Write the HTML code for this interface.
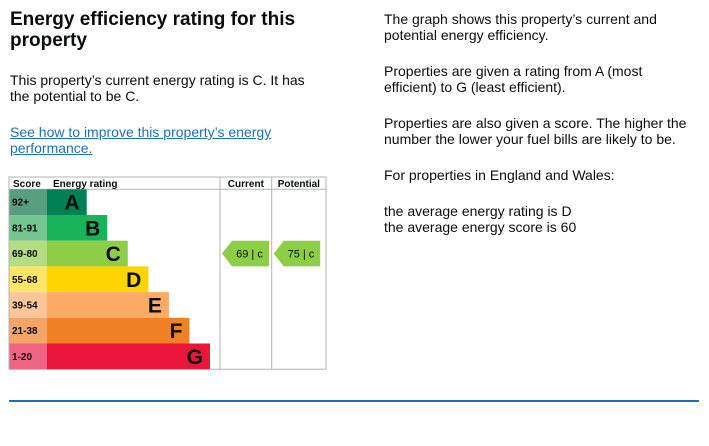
<!DOCTYPE html>
<html><head><meta charset="utf-8"><style>
body{margin:0;width:709px;height:446px;background:#fff;position:relative;overflow:hidden;font-family:"Liberation Sans",Arial,sans-serif;color:#0b0c0c}
.t{position:absolute;margin:0}
h2.t{left:10px;top:9px;font-size:19px;line-height:21px;font-weight:bold;width:340px}
p.t{font-size:14px;line-height:16px}
a{color:#1d70b8;text-decoration:underline}
</style></head><body>
<h2 class="t">Energy efficiency rating for this property</h2>
<p class="t" style="left:10px;top:72px;width:310px">This property’s current energy rating is C. It has the potential to be C.</p>
<p class="t" style="left:10px;top:124px;width:318px"><a href="#">See how to improve this property’s energy performance.</a></p>
<p class="t" style="left:384px;top:11px;width:312px">The graph shows this property’s current and potential energy efficiency.</p>
<p class="t" style="left:384px;top:63px;width:300px">Properties are given a rating from A (most efficient) to G (least efficient).</p>
<p class="t" style="left:384px;top:115px;width:312px">Properties are also given a score. The higher the number the lower your fuel bills are likely to be.</p>
<p class="t" style="left:384px;top:167px;width:312px">For properties in England and Wales:</p>
<p class="t" style="left:384px;top:203px;width:312px">the average energy rating is D<br>the average energy score is 60</p>
<div style="position:absolute;left:9px;top:400px;width:690px;height:2px;background:#1d70b8"></div>
<svg id="c" width="709" height="446" style="position:absolute;left:0;top:0"></svg>
<script>
const bands=["A","B","C","D","E","F","G"];
const ranges=["92+","81-91","69-80","55-68","39-54","21-38","1-20"];
const bandColors=["#008054","#19b459","#8dce46","#ffd500","#fcaa65","#ef8023","#e9153b"];
const scoreColors=["#5a9e80","#74c58f","#b3dc84","#ffe566","#fdc69a","#f3a566","#ef6482"];
const currentScore=69, currentBand="C";
const potentialScore=75, potentialBand="C";
const NS="http://www.w3.org/2000/svg";
const svg=document.getElementById('c');
function mk(t,a,txt){const e=document.createElementNS(NS,t);for(const k in a)e.setAttribute(k,a[k]);if(txt!==undefined)e.textContent=txt;svg.appendChild(e);return e;}
const X0=9,X1=326,TOP=177,HEAD=12.3,RH=25.7,SC=46.7,CUR=220,POT=271.7;
const y=i=>TOP+HEAD+i*RH;
const barEnd=i=>86.7+i*20.55;
const bandIndex=b=>bands.indexOf(b);
const BOT=y(bands.length);
let e;
e=mk('rect',{x:X0,y:TOP,width:X1-X0,height:BOT-TOP,fill:'#fff',stroke:'#b1b4b6','stroke-width':1});

e=mk('line',{x1:X0,x2:X1,y1:TOP+HEAD,y2:TOP+HEAD,stroke:'#b1b4b6'});

[CUR,POT].forEach(x=>{e=mk('line',{x1:x,x2:x,y1:TOP,y2:BOT,stroke:'#b1b4b6'});
});
const hs={'font-size':10,'font-weight':'bold','font-family':'Liberation Sans, sans-serif',fill:'#0b0c0c'};
e=mk('text',Object.assign({x:13,y:TOP+10},hs),'Score');
e=mk('text',Object.assign({x:53,y:TOP+10},hs),'Energy rating');
e=mk('text',Object.assign({x:(CUR+POT)/2,y:TOP+10,'text-anchor':'middle'},hs),'Current');
e=mk('text',Object.assign({x:(POT+X1)/2,y:TOP+10,'text-anchor':'middle'},hs),'Potential');
bands.forEach((b,i)=>{
 e=mk('rect',{x:X0+0.5,y:y(i),width:SC-X0-0.5,height:RH,fill:scoreColors[i]});
 
 e=mk('text',{x:12,y:y(i)+RH/2+3.5,'font-size':10,'font-weight':'bold','font-family':'Liberation Sans, sans-serif',fill:'#0b0c0c'},ranges[i]);
 
 e=mk('rect',{x:SC,y:y(i),width:barEnd(i)-SC,height:RH,fill:bandColors[i]});
 
 e=mk('text',{x:barEnd(i)-7,y:y(i)+RH/2+7.5,'text-anchor':'end','font-size':21,'font-weight':'bold','font-family':'Liberation Sans, sans-serif',fill:'#0b0c0c'},b);
 
});
function arrow(x0,x1,score,band,name){
 const i=bandIndex(band),t=y(i),m=t+RH/2,bt=t+RH;
 e=mk('polygon',{points:`${x0},${m} ${x0+10},${t} ${x1},${t} ${x1},${bt} ${x0+10},${bt}`,fill:bandColors[i]});
 
 e=mk('text',{x:(x0+x1)/2+4,y:m+4,'text-anchor':'middle','font-size':11,'font-family':'Liberation Sans, sans-serif',fill:'#0b0c0c'},score+' |  '+band.toLowerCase());
 
}
arrow(CUR+2,CUR+49,currentScore,currentBand,'current');
arrow(POT+2,POT+48.5,potentialScore,potentialBand,'potential');
</script>
</body></html>
